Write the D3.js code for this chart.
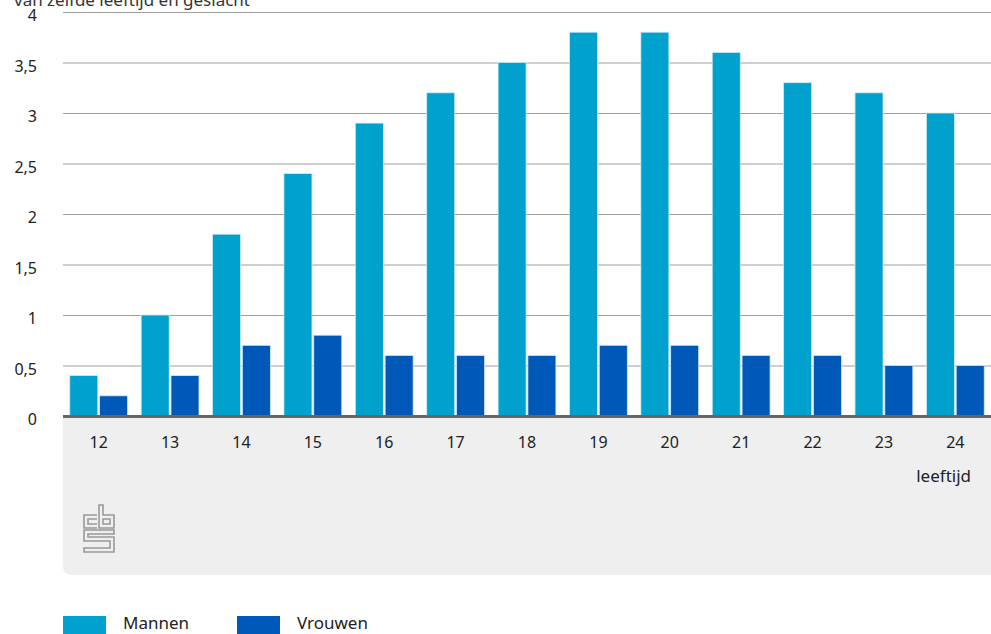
<!DOCTYPE html>
<html><head><meta charset="utf-8">
<script src="https://cdn.jsdelivr.net/npm/d3@7"></script>
<style>body{margin:0;background:#fff;}svg{display:block;font-family:"Noto Sans",sans-serif;}</style>
</head><body>
<svg id="c" width="991" height="634"></svg>
<script>
const categories = ["12","13","14","15","16","17","18","19","20","21","22","23","24"];
const seriesNames = ["Mannen","Vrouwen"];
const mannen = [0.4,1.0,1.8,2.4,2.9,3.2,3.5,3.8,3.8,3.6,3.3,3.2,3.0];
const vrouwen = [0.2,0.4,0.7,0.8,0.6,0.6,0.6,0.7,0.7,0.6,0.6,0.5,0.5];
const yTicks = [0,0.5,1,1.5,2,2.5,3,3.5,4];
const colors = ["#00a1cd","#0058b8"];
const title = "van zelfde leeftijd en geslacht";
const xTitle = "leeftijd";

const svg = d3.select("#c");
const L = 63, R = 991, T = 12, B = 416;
const y = d3.scaleLinear().domain([0,4]).range([B,T]);
const x = d3.scaleBand().domain(categories).range([L,R]).paddingInner(0.19).paddingOuter(0.095);
const xs = d3.scaleBand().domain(seriesNames).range([0,x.bandwidth()]).paddingInner(0.06);

// title
svg.append("text").attr("x",14).attr("y",6).attr("font-size",17).attr("fill","#333").text(title);

// grey panel
const pr = 8, pTop = B+2, pBot = 575;
svg.append("path").attr("fill","#efefef")
  .attr("d",`M${L},${pTop}H${R}V${pBot}H${L+pr}A${pr},${pr} 0 0 1 ${L},${pBot-pr}Z`);

// gridlines
const yAxis = d3.axisLeft(y).tickValues(yTicks).tickSize(-(R-L)).tickFormat(d=>String(d).replace(".",","));
const ga = svg.append("g").attr("transform",`translate(${L},0)`).call(yAxis);
ga.select(".domain").remove();
ga.selectAll(".tick line").attr("stroke","#a0a0a0").attr("stroke-width",1.2);
ga.selectAll(".tick text").attr("x",-26).attr("dy","0.55em").attr("font-size",16).attr("fill","#222").attr("font-family","Noto Sans");
ga.selectAll(".tick").filter(d=>d===0).select("line").remove();

// bars
const data = categories.map((c,i)=>({c, v:[mannen[i],vrouwen[i]]}));
const g = svg.append("g");
data.forEach(d=>{
  seriesNames.forEach((s,j)=>{
    g.append("rect").attr("x",x(d.c)+xs(s)).attr("y",y(d.v[j])).attr("width",xs.bandwidth())
      .attr("height",B-y(d.v[j])).attr("fill",colors[j]).attr("stroke","#cfeaf3").attr("stroke-width",0.8);
  });
});

// baseline
svg.append("line").attr("x1",L).attr("x2",R).attr("y1",B+0.5).attr("y2",B+0.5).attr("stroke","#666").attr("stroke-width",3);

// x axis labels
const xAxis = d3.axisBottom(x).tickSize(0);
const gx = svg.append("g").attr("transform",`translate(0,${B})`).call(xAxis);
gx.select(".domain").remove();
gx.selectAll(".tick text").attr("y",21).attr("dy","0.71em").attr("font-size",16).attr("fill","#222").attr("font-family","Noto Sans");
svg.append("text").attr("x",971).attr("y",482).attr("text-anchor","end").attr("font-size",17).attr("fill","#222").text(xTitle);

// cbs logo
const lg = svg.append("g").attr("fill","none").attr("stroke","#999").attr("stroke-width",1.6);
lg.append("path").attr("d","M97,515H84V528H97M97,519H88V524H97");
lg.append("path").attr("d","M99,505H103V515H114V528H99Z M103,519H110V524H103Z");
lg.append("path").attr("d","M114,530H84V541H110V548H84V552H114V537H88V534H114Z");

// legend
const leg = svg.append("g");
seriesNames.forEach((s,j)=>{
  const lx = [63,237][j];
  leg.append("rect").attr("x",lx).attr("y",616).attr("width",43).attr("height",18).attr("fill",colors[j]);
  leg.append("text").attr("x",lx+60).attr("y",629).attr("font-size",17).attr("fill","#222").text(s);
});
</script>
</body></html>
